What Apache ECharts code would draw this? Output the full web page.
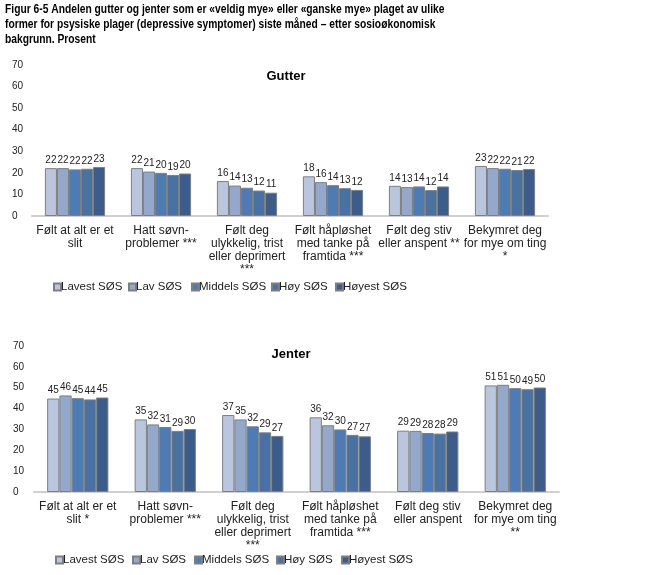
<!DOCTYPE html>
<html><head><meta charset="utf-8">
<script src="https://cdn.jsdelivr.net/npm/echarts@6/dist/echarts.min.js"></script>
<style>html,body{margin:0;padding:0;background:#fff}#c{width:665px;height:575px}</style>
</head><body><div id="c"></div>
<script>
const seriesNames = ['Lavest SØS','Lav SØS','Middels SØS','Høy SØS','Høyest SØS'];
const colors = ['#BAC6DE','#93A8CB','#4F7BB4','#4971A1','#3C5C8A'];
const catsGutter = ['Følt at alt er et\nslit','Hatt søvn-\nproblemer ***','Følt deg\nulykkelig, trist\neller deprimert\n***','Følt håpløshet\nmed tanke på\nframtida ***','Følt deg stiv\neller anspent **','Bekymret deg\nfor mye om ting\n*'];
const catsJenter = ['Følt at alt er et\nslit *','Hatt søvn-\nproblemer ***','Følt deg\nulykkelig, trist\neller deprimert\n***','Følt håpløshet\nmed tanke på\nframtida ***','Følt deg stiv\neller anspent','Bekymret deg\nfor mye om ting\n**'];
// Gutter: one array per SØS group, values per category
const gutterLavest  = [22.2, 22.2, 16.2, 18.4, 14.0, 23.2];
const gutterLav     = [22.2, 20.6, 14.1, 15.7, 13.4, 22.2];
const gutterMiddels = [21.6, 20.0, 13.1, 14.3, 13.7, 21.9];
const gutterHoy     = [21.9, 19.0, 11.8, 12.9, 12.0, 21.3];
const gutterHoyest  = [22.7, 19.7, 10.8, 12.1, 13.7, 21.8];
// Jenter
const jenterLavest  = [44.8, 34.8, 36.9, 35.8, 29.4, 51.1];
const jenterLav     = [46.3, 32.4, 34.8, 32.0, 29.3, 51.4];
const jenterMiddels = [45.0, 31.2, 31.5, 30.0, 28.3, 49.8];
const jenterHoy     = [44.4, 29.3, 28.6, 27.4, 28.0, 49.3];
const jenterHoyest  = [45.3, 30.2, 26.9, 26.7, 29.0, 50.1];
const yTicks = {min: 0, max: 70, interval: 10};
const figTitle = 'Figur 6-5 Andelen gutter og jenter som er «veldig mye» eller «ganske mye» plaget av ulike\nformer for psysiske plager (depressive symptomer) siste måned – etter sosioøkonomisk\nbakgrunn. Prosent';

const gutterData = [gutterLavest, gutterLav, gutterMiddels, gutterHoy, gutterHoyest];
const jenterData = [jenterLavest, jenterLav, jenterMiddels, jenterHoy, jenterHoyest];
const sans = '"Liberation Sans", Arial, sans-serif';

function mkSeries(data, idx) {
  return data.map((d, i) => ({
    name: seriesNames[i], type: 'bar', xAxisIndex: idx, yAxisIndex: idx,
    data: d, barGap: '0%', barCategoryGap: '30%',
    itemStyle: {color: colors[i], borderColor: '#7f7f7f', borderWidth: 1},
    label: {show: true, position: 'top', distance: 3, color: '#222', fontSize: 10, fontFamily: sans,
      formatter: p => Math.round(p.value)},
    emphasis: {disabled: true}
  }));
}
function xAx(idx, cats) {
  return {type: 'category', gridIndex: idx, data: cats,
    axisLine: {lineStyle: {color: '#d0d0d0', width: 2}}, axisTick: {show: false},
    axisLabel: {interval: 0, color: '#222', fontSize: 12, fontFamily: sans, lineHeight: 13, margin: 8}};
}
function yAx(idx, margin) {
  return {type: 'value', gridIndex: idx, min: yTicks.min, max: yTicks.max, interval: yTicks.interval,
    splitLine: {show: false}, axisLine: {show: false}, axisTick: {show: false},
    axisLabel: {color: '#222', fontSize: 10, fontFamily: sans, align: 'left', margin: margin}};
}
const topLegendX = [48, 123, 186, 266, 330];
const botLegendX = [50, 127, 189, 271, 336];
function legends(xs, top) {
  return seriesNames.map((n, i) => ({
    data: [n], left: xs[i], top: top, icon: 'rect', itemWidth: 7, itemHeight: 7,
    textStyle: {fontSize: 11.5, fontFamily: sans, color: '#222', padding: [0, 0, 0, -5]}, selectedMode: false
  }));
}
const chart = echarts.init(document.getElementById('c'), null, {renderer: 'canvas'});
chart.setOption({
  animation: false,
  graphic: [
    {type: 'text', left: 5, top: 2, scaleX: 0.79, originX: 0, originY: 0,
     style: {text: figTitle, font: 'bold 13px "Liberation Sans", Arial, sans-serif', fill: '#000', lineHeight: 15}}
  ],
  title: [
    {text: 'Gutter', left: 281, top: 65, textAlign: 'center', textStyle: {fontSize: 13, fontWeight: 'bold', fontFamily: sans, color: '#000'}},
    {text: 'Jenter', left: 286, top: 343, textAlign: 'center', textStyle: {fontSize: 13, fontWeight: 'bold', fontFamily: sans, color: '#000'}}
  ],
  legend: legends(topLegendX, 276).concat(legends(botLegendX, 549)),
  grid: [
    {left: 32, right: 117, top: 65, height: 151},
    {left: 34, right: 106, top: 346, height: 146}
  ],
  xAxis: [xAx(0, catsGutter), xAx(1, catsJenter)],
  yAxis: [yAx(0, 20), yAx(1, 21)],
  series: mkSeries(gutterData, 0).concat(mkSeries(jenterData, 1))
});
</script></body></html>
